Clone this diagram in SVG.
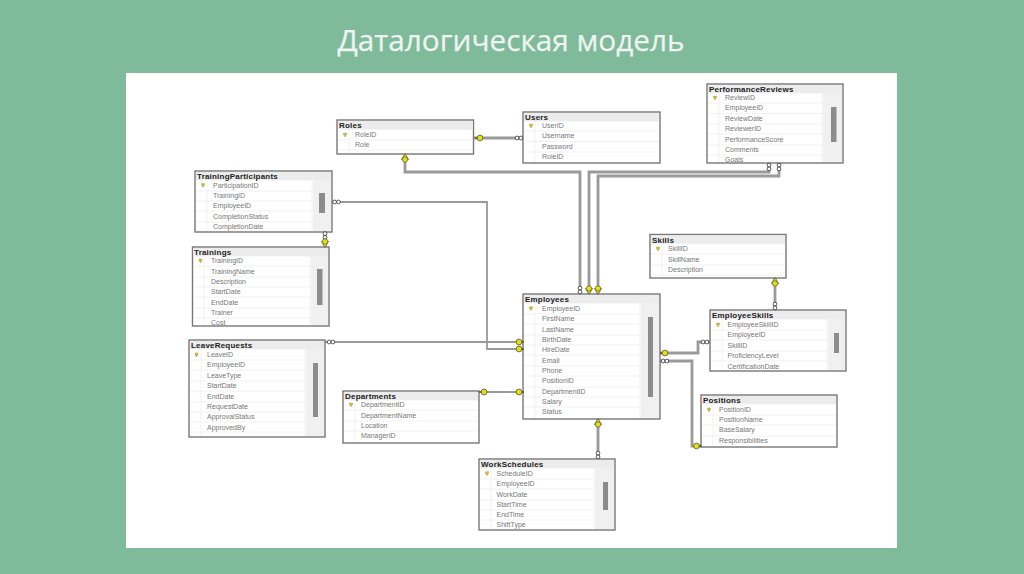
<svg xmlns="http://www.w3.org/2000/svg" xmlns:xlink="http://www.w3.org/1999/xlink" width="1024" height="574" viewBox="0 0 1024 574">
<style>
.title{font-family:"Open Sans","Noto Sans",sans-serif;font-size:30px;fill:#eef4f0;stroke:#eef4f0;stroke-width:.25}
.box{fill:#fff;stroke:#777;stroke-width:1.4}
.head{fill:#ececec}
.sb{fill:#f0f0f0}
.th{fill:#8c8c8c}
.sep{fill:none;stroke:#eeeeee;stroke-width:.8}
.h{font-family:"Liberation Sans",Arial,sans-serif;font-size:8px;font-weight:bold;fill:#222;letter-spacing:.2px}
.r{font-family:"Liberation Sans",Arial,sans-serif;font-size:7px;fill:#777}
.c{fill:none;stroke:#9a9a9a;stroke-width:2.8}
.thin{stroke-width:1.8}
</style>
<defs>
<g id="pk"><path d="M-1.5 -2h3v2h-.9v1.6h-1.2v-1.6h-.9z" fill="#d6c62a" stroke="#77773a" stroke-width=".3"/></g>
<g id="kh"><path d="M-5 0H0" stroke="#333" stroke-width="1"/><circle r="2.9" fill="#e4e400" stroke="#555" stroke-width=".8"/></g>
<g id="kv"><path d="M0 -4.500L3.600 1.500H-3.600z" fill="#e4e400" stroke="#555" stroke-width=".7"/><circle cy="1.500" r="2.700" fill="#e4e400" stroke="#555" stroke-width=".7"/></g>
<g id="ih"><circle cx="-1.900" r="1.900" fill="#fff" stroke="#333" stroke-width=".8"/><circle cx="1.900" r="1.900" fill="#fff" stroke="#333" stroke-width=".8"/></g>
<g id="iv"><circle cy="-1.900" r="1.900" fill="#fff" stroke="#333" stroke-width=".8"/><circle cy="1.900" r="1.900" fill="#fff" stroke="#333" stroke-width=".8"/></g>
<clipPath id="cPerf"><rect x="707" y="84" width="136" height="79"/></clipPath>
<clipPath id="cTrain"><rect x="192" y="247" width="137" height="79"/></clipPath>
</defs>

<rect width="1024" height="574" fill="#7fba9a"/>
<rect x="126" y="73" width="771" height="475" fill="#fff"/>
<text class="title" x="511" y="51" text-anchor="middle" textLength="347" lengthAdjust="spacingAndGlyphs">Даталогическая модель</text>

<g id="connectors">
<path class="c" d="M474 138H523"/>
<path class="c" d="M405 155V172H580V294"/>
<path class="c" d="M769 163V172H589V294"/>
<path class="c" d="M779 163V176H598V294"/>
<path class="c thin" d="M332 202H487V349H523"/>
<path class="c thin" d="M325 342H523"/>
<path class="c" d="M325 232V247"/>
<path class="c thin" d="M479 392H523"/>
<path class="c" d="M598 419V459"/>
<path class="c" d="M660 353H698V342H710"/>
<path class="c" d="M660 361H692V446H701"/>
<path class="c" d="M775 278V310"/>
</g>

<g id="Roles">
<rect class="box" x="337" y="120" width="136.500" height="34"/><rect class="head" x="338" y="121" width="135" height="8"/>
<path class="sep" d="M338 129.500H473M338 140H473M338 150H473M349 130V153"/>
<text class="h" x="339" y="128">Roles</text>
<use xlink:href="#pk" href="#pk" x="345" y="135"/>
<text class="r" x="355" y="137.300">RoleID</text><text class="r" x="355" y="147.300">Role</text>
</g>

<g id="Users">
<rect class="box" x="523" y="112" width="137" height="51"/><rect class="head" x="524" y="113" width="135" height="8"/>
<path class="sep" d="M524 121H659M524 131H659M524 141.500H659M524 152H659M535 121V162"/>
<text class="h" x="525" y="119.500">Users</text>
<use xlink:href="#pk" href="#pk" x="531" y="126"/>
<text class="r" x="542" y="128.300">UserID</text><text class="r" x="542" y="138.300">Username</text><text class="r" x="542" y="148.800">Password</text><text class="r" x="542" y="159.300">RoleID</text>
</g>

<g id="PerformanceReviews">
<rect class="box" x="707" y="84" width="136" height="79"/><rect class="head" x="708" y="85" width="134" height="8"/>
<rect class="sb" x="823" y="93" width="19" height="69"/><rect class="th" x="831" y="107" width="5.500" height="35"/>
<path class="sep" d="M708 93H823M708 103H823M708 113.500H823M708 124H823M708 134H823M708 145H823M708 155H823M719 93V162M822 93V162"/>
<text class="h" x="709" y="91.500">PerformanceReviews</text>
<use xlink:href="#pk" href="#pk" x="715" y="98"/>
<g clip-path="url(#cPerf)"><text class="r" x="725" y="100.300">ReviewID</text><text class="r" x="725" y="110.300">EmployeeID</text><text class="r" x="725" y="121.300">ReviewDate</text><text class="r" x="725" y="131.300">ReviewerID</text><text class="r" x="725" y="141.800">PerformanceScore</text><text class="r" x="725" y="152.300">Comments</text><text class="r" x="725" y="162.300">Goals</text></g>
</g>

<g id="TrainingParticipants">
<rect class="box" x="195" y="171" width="137" height="61"/><rect class="head" x="196" y="172" width="135" height="8"/>
<rect class="sb" x="313" y="180" width="18" height="51"/><rect class="th" x="319" y="193" width="6" height="20"/>
<path class="sep" d="M196 180H313M196 191H313M196 201H313M196 211H313M196 222H313M207 180V231M312 180V231"/>
<text class="h" x="197" y="178.500">TrainingParticipants</text>
<use xlink:href="#pk" href="#pk" x="203" y="185.500"/>
<text class="r" x="213" y="187.800">ParticipationID</text><text class="r" x="213" y="198.300">TrainingID</text><text class="r" x="213" y="208.300">EmployeeID</text><text class="r" x="213" y="218.800">CompletionStatus</text><text class="r" x="213" y="229.300">CompletionDate</text>
</g>

<g id="Trainings">
<rect class="box" x="192.500" y="247" width="136.500" height="79"/><rect class="head" x="193" y="248" width="135" height="8"/>
<rect class="sb" x="311" y="256" width="17" height="69"/><rect class="th" x="317" y="269" width="5.500" height="36"/>
<path class="sep" d="M193 256H311M193 266H311M193 277H311M193 287H311M193 297H311M193 308H311M193 318H311M204 256V325M310 256V325"/>
<text class="h" x="194" y="254.500">Trainings</text>
<use xlink:href="#pk" href="#pk" x="200.500" y="261"/>
<g clip-path="url(#cTrain)"><text class="r" x="211" y="263.300">TrainingID</text><text class="r" x="211" y="273.800">TrainingName</text><text class="r" x="211" y="284.300">Description</text><text class="r" x="211" y="294.300">StartDate</text><text class="r" x="211" y="304.800">EndDate</text><text class="r" x="211" y="314.800">Trainer</text><text class="r" x="211" y="325.300">Cost</text></g>
</g>

<g id="Skills">
<rect class="box" x="650" y="234.500" width="136" height="43.500"/><rect class="head" x="651" y="235.500" width="134" height="8"/>
<path class="sep" d="M651 244H785M651 254H785M651 265H785M651 275H785M662 244V277"/>
<text class="h" x="652" y="242.500">Skills</text>
<use xlink:href="#pk" href="#pk" x="658" y="249"/>
<text class="r" x="668" y="251.300">SkillID</text><text class="r" x="668" y="261.800">SkillName</text><text class="r" x="668" y="272.300">Description</text>
</g>

<g id="Employees">
<rect class="box" x="523" y="294" width="137" height="125"/><rect class="head" x="524" y="295" width="135" height="8"/>
<rect class="sb" x="641" y="303" width="18" height="115"/><rect class="th" x="648" y="317" width="5" height="80"/>
<path class="sep" d="M524 303H641M524 314H641M524 324H641M524 335H641M524 345H641M524 355H641M524 366H641M524 376H641M524 387H641M524 397H641M524 407H641M535 303V418M640 303V418"/>
<text class="h" x="525" y="301.500">Employees</text>
<use xlink:href="#pk" href="#pk" x="531" y="308.700"/>
<text class="r" x="542" y="311">EmployeeID</text><text class="r" x="542" y="321.300">FirstName</text><text class="r" x="542" y="331.800">LastName</text><text class="r" x="542" y="342.300">BirthDate</text><text class="r" x="542" y="352.300">HireDate</text><text class="r" x="542" y="362.800">Email</text><text class="r" x="542" y="373.300">Phone</text><text class="r" x="542" y="383.300">PositionID</text><text class="r" x="542" y="394.300">DepartmentID</text><text class="r" x="542" y="404.300">Salary</text><text class="r" x="542" y="414.300">Status</text>
</g>

<g id="EmployeeSkills">
<rect class="box" x="710" y="310" width="136" height="61"/><rect class="head" x="711" y="311" width="134" height="8"/>
<rect class="sb" x="828" y="319" width="17" height="51"/><rect class="th" x="834" y="333" width="5" height="20"/>
<path class="sep" d="M711 319H828M711 330H828M711 340H828M711 351H828M711 361H828M722 319V370M827 319V370"/>
<text class="h" x="712" y="317.500">EmployeeSkills</text>
<use xlink:href="#pk" href="#pk" x="718" y="325"/>
<text class="r" x="727.500" y="327.300">EmployeeSkillID</text><text class="r" x="727.500" y="337.300">EmployeeID</text><text class="r" x="727.500" y="347.800">SkillID</text><text class="r" x="727.500" y="358.300">ProficiencyLevel</text><text class="r" x="727.500" y="368.800">CertificationDate</text>
</g>

<g id="Positions">
<rect class="box" x="701" y="395" width="136" height="52"/><rect class="head" x="702" y="396" width="134" height="8"/>
<path class="sep" d="M702 404H836M702 415H836M702 425H836M702 436H836M713 404V446"/>
<text class="h" x="703" y="402.500">Positions</text>
<use xlink:href="#pk" href="#pk" x="709" y="410"/>
<text class="r" x="719" y="412.300">PositionID</text><text class="r" x="719" y="422.300">PositionName</text><text class="r" x="719" y="432.300">BaseSalary</text><text class="r" x="719" y="443.300">Responsibilities</text>
</g>

<g id="WorkSchedules">
<rect class="box" x="479" y="459" width="136" height="71"/><rect class="head" x="480" y="460" width="134" height="8"/>
<rect class="sb" x="595" y="468" width="19" height="61"/><rect class="th" x="603" y="482" width="5" height="28"/>
<path class="sep" d="M480 468H595M480 479H595M480 489H595M480 500H595M480 510H595M480 520H595M491 468V529M594 468V529"/>
<text class="h" x="481" y="466.500">WorkSchedules</text>
<use xlink:href="#pk" href="#pk" x="487" y="473.700"/>
<text class="r" x="496.500" y="476">ScheduleID</text><text class="r" x="496.500" y="486.300">EmployeeID</text><text class="r" x="496.500" y="496.800">WorkDate</text><text class="r" x="496.500" y="507.300">StartTime</text><text class="r" x="496.500" y="517.300">EndTime</text><text class="r" x="496.500" y="527.300">ShiftType</text>
</g>

<g id="LeaveRequests">
<rect class="box" x="189" y="340" width="136" height="97"/><rect class="head" x="190" y="341" width="134" height="8"/>
<rect class="sb" x="306" y="349" width="18" height="87"/><rect class="th" x="313" y="363" width="5" height="54"/>
<path class="sep" d="M190 349H306M190 360H306M190 370H306M190 381H306M190 391H306M190 402H306M190 412H306M190 422H306M190 432H306M201 349V436M305 349V436"/>
<text class="h" x="191" y="347.500">LeaveRequests</text>
<use xlink:href="#pk" href="#pk" x="196.500" y="355"/>
<text class="r" x="207" y="357.300">LeaveID</text><text class="r" x="207" y="367.300">EmployeeID</text><text class="r" x="207" y="377.800">LeaveType</text><text class="r" x="207" y="388.300">StartDate</text><text class="r" x="207" y="398.800">EndDate</text><text class="r" x="207" y="409.300">RequestDate</text><text class="r" x="207" y="419.300">ApprovalStatus</text><text class="r" x="207" y="429.800">ApprovedBy</text>
</g>

<g id="Departments">
<rect class="box" x="343" y="391" width="136" height="52"/><rect class="head" x="344" y="392" width="134" height="8"/>
<path class="sep" d="M344 400H478M344 410H478M344 421H478M344 431H478M355 400V442"/>
<text class="h" x="345" y="398.500">Departments</text>
<use xlink:href="#pk" href="#pk" x="351" y="405"/>
<text class="r" x="361" y="407.300">DepartmentID</text><text class="r" x="361" y="417.800">DepartmentName</text><text class="r" x="361" y="428.300">Location</text><text class="r" x="361" y="438.300">ManagerID</text>
</g>

<g id="connector-ends">
<use xlink:href="#kh" href="#kh" x="480" y="138"/><use xlink:href="#ih" href="#ih" x="519" y="138"/>
<use xlink:href="#kv" href="#kv" transform="translate(405 158)"/>
<use xlink:href="#iv" href="#iv" x="580" y="290"/>
<use xlink:href="#kv" href="#kv" transform="translate(589 290) scale(1 -1)"/>
<use xlink:href="#kv" href="#kv" transform="translate(598 290) scale(1 -1)"/>
<use xlink:href="#iv" href="#iv" x="769" y="167"/><use xlink:href="#iv" href="#iv" x="779" y="167"/>
<use xlink:href="#ih" href="#ih" x="336.500" y="202"/>
<use xlink:href="#kh" href="#kh" transform="translate(519 349) scale(-1 1)"/>
<use xlink:href="#ih" href="#ih" x="331" y="342"/>
<use xlink:href="#kh" href="#kh" transform="translate(519 342) scale(-1 1)"/>
<use xlink:href="#iv" href="#iv" x="325" y="235.500"/>
<use xlink:href="#kv" href="#kv" transform="translate(325 243) scale(1 -1)"/>
<use xlink:href="#kh" href="#kh" x="484" y="392"/>
<use xlink:href="#kh" href="#kh" transform="translate(519 392) scale(-1 1)"/>
<use xlink:href="#kv" href="#kv" transform="translate(598 423)"/>
<use xlink:href="#iv" href="#iv" x="598" y="455"/>
<use xlink:href="#kh" href="#kh" x="665" y="353"/>
<use xlink:href="#ih" href="#ih" x="705" y="342"/>
<use xlink:href="#ih" href="#ih" x="665" y="361"/>
<use xlink:href="#kh" href="#kh" transform="translate(696.500 446) scale(-1 1)"/>
<use xlink:href="#kv" href="#kv" transform="translate(775 282)"/>
<use xlink:href="#iv" href="#iv" x="775" y="306"/>
</g>
</svg>
